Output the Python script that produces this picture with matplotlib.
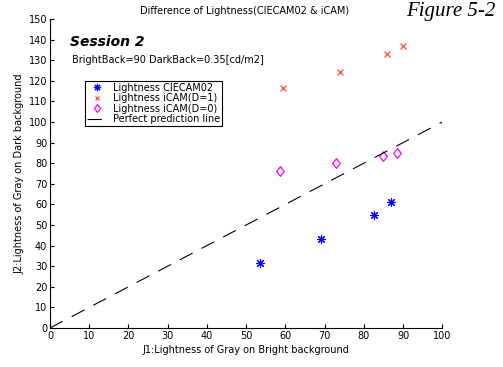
import matplotlib
matplotlib.use('Agg')
import matplotlib.pyplot as plt

plt.rcParams['font.family'] = 'DejaVu Sans'
plt.rcParams['font.size'] = 7

# CIECAM02
ciecam_x = [53.5, 69, 82.5, 87]
ciecam_y = [31.5, 43, 55, 61]
# iCAM(D=1)
icam1_x = [59.5, 74, 86, 90]
icam1_y = [116.5, 124.5, 133, 137]
# iCAM(D=0)
icam0_x = [58.5, 73, 85, 88.5]
icam0_y = [76, 80, 83.5, 85]
# perfect prediction
line_x = [0, 100]
line_y = [0, 100]

diamond = [(0, 1), (0.78, 0), (0, -1), (-0.78, 0), (0, 1)]

fig = plt.figure(figsize=(5.03, 3.67), dpi=100)
ax = fig.add_axes([0.0994, 0.1063, 0.78, 0.842])

ax.plot(ciecam_x, ciecam_y, linestyle='none', marker=(8, 2, 0), color='blue',
        markersize=6.5, markeredgewidth=0.8, label='Lightness CIECAM02')
ax.plot(icam1_x, icam1_y, linestyle='none', marker='x', color='#ff4848',
        markersize=4, markeredgewidth=0.9, label='Lightness iCAM(D=1)')
ax.plot(icam0_x, icam0_y, linestyle='none', marker=diamond, color='magenta',
        markerfacecolor='none', markersize=7, markeredgewidth=0.9, label='Lightness iCAM(D=0)')
ax.plot(line_x, line_y, color='black', linewidth=0.8, dashes=(13, 9),
        label='Perfect prediction line')

ax.set_xlim(0, 100)
ax.set_ylim(0, 150)
ax.set_xticks(range(0, 101, 10))
ax.set_yticks(range(0, 151, 10))
ax.tick_params(direction='in', length=3, width=0.8, labelsize=7, pad=2)
ax.spines['top'].set_visible(False)
ax.spines['right'].set_visible(False)

ax.set_xlabel('J1:Lightness of Gray on Bright background', fontsize=7, labelpad=3)
ax.set_ylabel('J2:Lightness of Gray on Dark background', fontsize=7, labelpad=3)
fig.text(0.487, 0.985, 'Difference of Lightness(CIECAM02 & iCAM)', ha='center', va='top', fontsize=7)
fig.text(0.985, 0.995, 'Figure 5-2', ha='right', va='top', fontsize=15,
         family='Liberation Serif', style='italic')
ax.text(5, 137, 'Session 2', fontsize=10, fontweight='bold', style='italic')
ax.text(5.5, 128.5, 'BrightBack=90 DarkBack=0.35[cd/m2]', fontsize=7)

leg = ax.legend(loc='upper left', bbox_to_anchor=(0.09, 0.8), fontsize=7,
                fancybox=False, edgecolor='black', framealpha=1, borderpad=0.2,
                labelspacing=0.05, handlelength=2.0, handletextpad=0.6, borderaxespad=0,
                markerscale=0.8)
leg.get_frame().set_linewidth(0.8)

fig.savefig('out.png', dpi=100)
